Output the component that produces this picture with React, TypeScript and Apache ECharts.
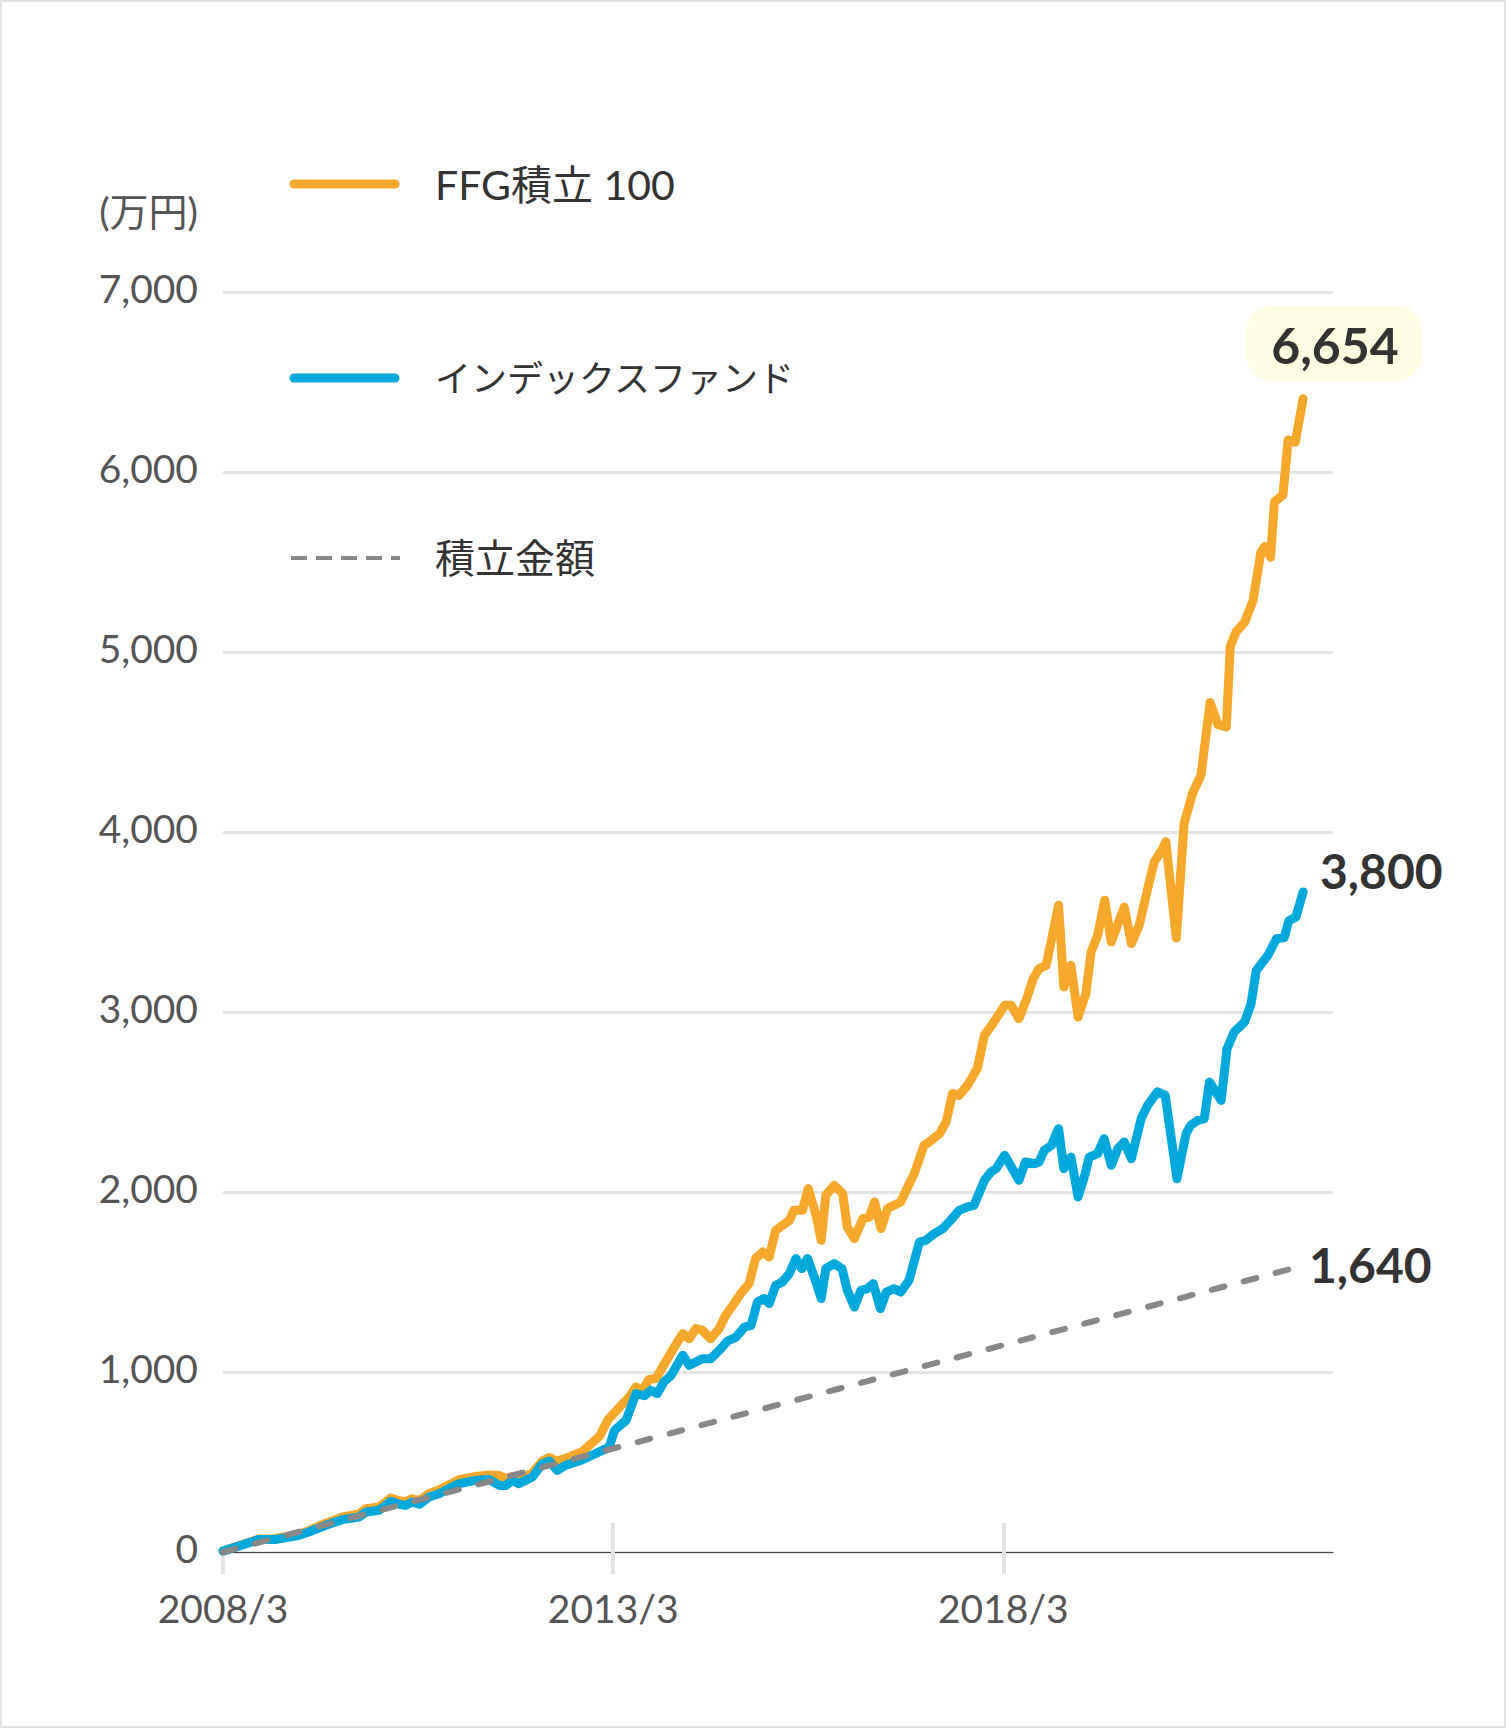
import React, { useEffect, useRef } from "react";
import * as echarts from "echarts";

// x values are months since 2008/3
const tickMonths = [0, 60, 120];
const tickLabels = ["2008/3", "2013/3", "2018/3"];

const ffgMonths = [0, 5.5, 8, 11.7, 13.2, 15.8, 18.4, 20.9, 22, 24, 25.8, 27.1, 28.1, 29.1, 30.2, 31.7, 33.2, 36.3, 38.9, 40.9, 42.5, 43.5, 44.5, 45.5, 47.6, 49.1, 50.2, 51.4, 52.7, 55.3, 57.9, 59.2, 61, 62.5, 63.5, 64.5, 65.5, 66.6, 67.6, 69.1, 70.7, 71.7, 72.7, 73.7, 75, 76.3, 77.3, 78.6, 79.6, 80.9, 81.9, 83, 84, 85, 87.1, 87.8, 89.1, 90, 91.2, 92, 92.7, 94, 95.3, 96, 97.1, 98.4, 99.4, 100.2, 101.2, 102.2, 104.2, 105.3, 106.3, 107.8, 108.6, 110.2, 111.2, 112.2, 113.2, 114.5, 116, 117.1, 118.4, 120.2, 121.2, 122.4, 123.6, 124.6, 125.5, 126.6, 127.6, 128.5, 129.3, 130.4, 131.5, 132.7, 133.5, 134.5, 135.6, 136.6, 138.6, 139.7, 140.9, 142.2, 143.2, 144.5, 145, 146.6, 147.8, 149.1, 150.4, 151.8, 153, 154.3, 154.9, 155.8, 157.1, 158.4, 159.6, 160.2, 161.1, 161.7, 163, 163.8, 164.9, 166.1];
const ffgValues = [5, 72, 74, 100, 120, 160, 195, 212, 240, 250, 300, 285, 280, 296, 285, 325, 345, 402, 420, 428, 425, 408, 420, 405, 440, 505, 525, 505, 520, 559, 643, 735, 806, 861, 917, 898, 958, 963, 1028, 1120, 1213, 1185, 1241, 1232, 1185, 1241, 1315, 1380, 1435, 1491, 1630, 1667, 1639, 1787, 1843, 1898, 1898, 2019, 1871, 1732, 1982, 2037, 1991, 1806, 1741, 1852, 1861, 1944, 1797, 1908, 1944, 2028, 2102, 2259, 2278, 2324, 2389, 2547, 2537, 2593, 2686, 2871, 2936, 3037, 3037, 2963, 3074, 3186, 3241, 3259, 3435, 3593, 3139, 3259, 2972, 3102, 3333, 3426, 3621, 3389, 3583, 3380, 3482, 3685, 3833, 3907, 3946, 3411, 4048, 4214, 4316, 4720, 4596, 4584, 5030, 5112, 5165, 5285, 5553, 5586, 5527, 5833, 5872, 6178, 6165, 6407];

const indexMonths = [0, 5.5, 8, 11.7, 13.2, 15.8, 18.4, 20.9, 22, 24, 25.8, 27.1, 28.1, 29.1, 30.2, 31.7, 33.2, 36.3, 38.9, 40.9, 42.5, 43.5, 44.5, 45.5, 47.6, 49.1, 50.2, 51.4, 52.7, 55.3, 57.3, 59.4, 60.2, 62, 63.5, 64.8, 65.8, 66.8, 67.8, 68.9, 70.7, 71.7, 73.7, 75, 76.3, 77.6, 78.9, 80.2, 81.2, 82.2, 83.2, 84, 85, 86, 87.1, 88.1, 89, 89.9, 91, 92, 92.7, 94, 95.2, 96, 97.1, 98.1, 99.1, 100, 101.1, 102, 103.2, 104.2, 105.5, 107.1, 108.1, 109.4, 110.7, 111.9, 113.2, 114.5, 115.5, 117.1, 118.1, 118.9, 120.2, 122.4, 123.4, 124.8, 125.5, 126.3, 127.4, 128.5, 129.3, 130.4, 131.5, 132.6, 133.2, 134.5, 135.5, 136.6, 137.6, 138.6, 139.7, 141.2, 142.2, 143.7, 144.9, 146.7, 148.1, 148.8, 149.9, 150.9, 151.7, 153.5, 154.4, 155.5, 157.1, 158.1, 158.9, 160.7, 162, 163.2, 163.9, 165, 166.1];
const indexValues = [5, 69, 69, 93, 111, 148, 180, 194, 222, 232, 282, 265, 259, 278, 265, 306, 324, 380, 398, 404, 370, 370, 398, 380, 417, 491, 505, 454, 482, 513, 547, 583, 676, 732, 880, 868, 898, 880, 944, 981, 1093, 1037, 1074, 1074, 1120, 1172, 1194, 1250, 1259, 1389, 1408, 1380, 1482, 1500, 1547, 1630, 1574, 1630, 1519, 1408, 1574, 1602, 1574, 1454, 1361, 1454, 1463, 1491, 1352, 1444, 1463, 1444, 1509, 1722, 1732, 1769, 1797, 1843, 1898, 1917, 1926, 2065, 2111, 2130, 2204, 2065, 2167, 2157, 2167, 2232, 2259, 2352, 2130, 2194, 1972, 2102, 2194, 2213, 2296, 2148, 2241, 2278, 2185, 2408, 2482, 2556, 2537, 2074, 2324, 2370, 2398, 2408, 2611, 2509, 2796, 2889, 2944, 3046, 3231, 3315, 3407, 3413, 3506, 3528, 3667];

const savedMonths = [0, 166];
const savedValues = [0, 1590];

const seriesNames = ["FFG積立 100", "インデックスファンド", "積立金額"];
const endLabels = ["6,654", "3,800", "1,640"];
const yUnit = "(万円)";

const FONT = "Lato, 'Noto Sans CJK JP', sans-serif";
const ORANGE = "#F5A82A";
const BLUE = "#00A8DB";
const GRAY = "#888888";

const pairs = (xs: number[], ys: number[]) => xs.map((x, i) => [x, ys[i]]);

export default function App() {
  const ref = useRef<HTMLDivElement>(null);
  useEffect(() => {
    if (!ref.current) return;
    const chart = echarts.init(ref.current, null, { renderer: "svg" });
    const legendText = (text: string, y: number, size: number) => ({
      type: "text",
      x: 435,
      y,
      style: { text, fontSize: size, fontFamily: FONT, fill: "#333", verticalAlign: "middle", align: "left" },
    });
    chart.setOption({
      animation: false,
      backgroundColor: "#ffffff",
      grid: { left: 223, right: 173, top: 292, bottom: 176, containLabel: false },
      xAxis: [
        {
          type: "value",
          min: 0,
          max: 170.7,
          axisLine: { show: true, lineStyle: { color: "#444", width: 1 } },
          axisTick: { show: true, customValues: tickMonths, length: 22, lineStyle: { color: "#e3e3e3", width: 4 } },
          axisLabel: {
            customValues: tickMonths,
            formatter: (v: number) => {
              const i = tickMonths.indexOf(Math.round(v));
              return i >= 0 ? tickLabels[i] : "";
            },
            fontSize: 39,
            fontFamily: FONT,
            color: "#555",
            margin: 36,
          },
          splitLine: { show: false },
        },
        {
          type: "value",
          min: 0,
          max: 170.7,
          position: "bottom",
          axisLine: { show: false },
          axisTick: { show: true, inside: true, customValues: tickMonths.slice(1), length: 29, lineStyle: { color: "#e3e3e3", width: 4 } },
          axisLabel: { show: false },
          splitLine: { show: false },
        },
      ],
      yAxis: {
        type: "value",
        min: 0,
        max: 7000,
        interval: 1000,
        axisLine: { show: false },
        axisTick: { show: false },
        axisLabel: {
          formatter: (v: number) => v.toLocaleString("en-US"),
          fontSize: 39,
          fontFamily: FONT,
          color: "#555",
          margin: 25,
          verticalAlign: "bottom",
          lineHeight: 8,
        },
        splitLine: { show: true, lineStyle: { color: "#e4e4e4", width: 3 } },
      },
      series: [
        {
          name: seriesNames[0],
          type: "line",
          data: pairs(ffgMonths, ffgValues),
          showSymbol: false,
          lineStyle: { color: ORANGE, width: 9, cap: "round", join: "round" },
          z: 2,
        },
        {
          name: seriesNames[1],
          type: "line",
          data: pairs(indexMonths, indexValues),
          showSymbol: false,
          lineStyle: { color: BLUE, width: 9, cap: "round", join: "round" },
          z: 3,
        },
        {
          name: seriesNames[2],
          type: "line",
          data: pairs(savedMonths, savedValues),
          showSymbol: false,
          lineStyle: { color: GRAY, width: 6, type: [13, 20], cap: "round" },
          z: 4,
        },
      ],
      graphic: [
        {
          type: "rect",
          shape: { x: 1, y: 1, width: 1504, height: 1726 },
          style: { fill: "none", stroke: "#e2e2e2", lineWidth: 2 },
          silent: true,
        },
        {
          type: "text",
          x: 198,
          y: 211,
          style: { text: yUnit, fontSize: 39, fontFamily: FONT, fill: "#555", align: "right", verticalAlign: "middle" },
        },
        {
          type: "line",
          shape: { x1: 294, y1: 184, x2: 395, y2: 184 },
          style: { stroke: ORANGE, lineWidth: 9, lineCap: "round" },
        },
        legendText(seriesNames[0], 184, 41),
        {
          type: "line",
          shape: { x1: 294, y1: 378, x2: 395, y2: 378 },
          style: { stroke: BLUE, lineWidth: 9, lineCap: "round" },
        },
        legendText(seriesNames[1], 378, 36),
        {
          type: "line",
          shape: { x1: 291, y1: 558, x2: 400, y2: 558 },
          style: { stroke: GRAY, lineWidth: 4, lineDash: [16, 9] },
        },
        legendText(seriesNames[2], 558, 40),
        {
          type: "rect",
          shape: { x: 1246, y: 306, width: 176, height: 75, r: 26 },
          style: { fill: "#FFFDE1" },
        },
        {
          type: "text",
          x: 1335,
          y: 345,
          style: { text: endLabels[0], fontSize: 50, fontWeight: "bold", fontFamily: FONT, fill: "#333", align: "center", verticalAlign: "middle" },
        },
        {
          type: "text",
          x: 1320,
          y: 870,
          style: { text: endLabels[1], fontSize: 48, fontWeight: "bold", fontFamily: FONT, fill: "#333", align: "left", verticalAlign: "middle" },
        },
        {
          type: "text",
          x: 1309,
          y: 1264,
          style: { text: endLabels[2], fontSize: 48, fontWeight: "bold", fontFamily: FONT, fill: "#333", align: "left", verticalAlign: "middle" },
        },
      ],
    });
    return () => chart.dispose();
  }, []);
  return (
    <div
      ref={ref}
      style={{ position: "absolute", left: 0, top: 0, width: 1506, height: 1728, background: "#fff" }}
    />
  );
}
